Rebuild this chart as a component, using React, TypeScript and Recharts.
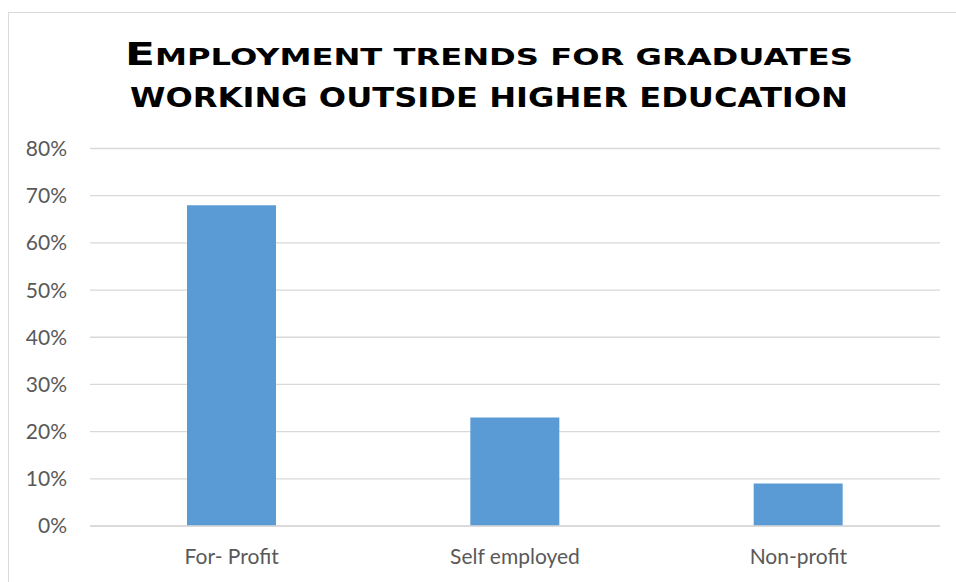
import React from "react";
import { Bar, BarChart, CartesianGrid, XAxis, YAxis } from "recharts";

const categories = ["For- Profit", "Self employed", "Non-profit"];
const shares = [68, 23, 9];
const yTicks = [0, 10, 20, 30, 40, 50, 60, 70, 80];

const data = categories.map((name, i) => ({ name, share: shares[i] }));

const GREY_TEXT = "#595959";
const GRID = "#d9d9d9";
const BAR = "#5b9bd5";
const FONT = "Lato, 'Open Sans', sans-serif";
const TITLE_FONT = "'DejaVu Sans', sans-serif";

export default function App() {
  return (
    <div
      style={{
        position: "absolute",
        left: 0,
        top: 0,
        width: 956,
        height: 582,
        overflow: "hidden",
        background: "#fff",
      }}
    >
      {/* chart frame, runs off the right and bottom edges */}
      <div
        style={{
          position: "absolute",
          left: 8,
          top: 12,
          width: 1000,
          height: 1000,
          border: `1px solid ${GRID}`,
        }}
      />
      <svg width={956} height={130} style={{ position: "absolute", left: 0, top: 0 }}>
        <text
          x={125}
          y={65}
          textLength={728}
          lengthAdjust="spacingAndGlyphs"
          fontFamily={TITLE_FONT}
          fontWeight="bold"
          fill="#000"
        >
          <tspan fontSize={32}>E</tspan>
          <tspan fontSize={23.5}>MPLOYMENT TRENDS FOR GRADUATES</tspan>
        </text>
        <text
          x={130}
          y={107}
          textLength={718}
          lengthAdjust="spacingAndGlyphs"
          fontFamily={TITLE_FONT}
          fontWeight="bold"
          fontSize={27}
          fill="#000"
        >
          WORKING OUTSIDE HIGHER EDUCATION
        </text>
      </svg>
      <div style={{ position: "absolute", left: 0, top: 0 }}>
        <BarChart
          width={956}
          height={582}
          data={data}
          margin={{ top: 148.5, right: 16, bottom: 26, left: 0 }}
        >
          <CartesianGrid vertical={false} stroke={GRID} strokeWidth={1.3} />
          <XAxis
            dataKey="name"
            height={30}
            axisLine={{ stroke: GRID, strokeWidth: 1.3 }}
            tickLine={false}
            tickMargin={17}
            tick={{ fill: GREY_TEXT, fontSize: 21, fontFamily: FONT }}
          />
          <YAxis
            width={90}
            domain={[0, 80]}
            ticks={yTicks}
            axisLine={false}
            tickLine={false}
            tickMargin={17}
            tickFormatter={(v: number) => `${v}%`}
            tick={{ fill: GREY_TEXT, fontSize: 21, fontFamily: FONT }}
          />
          <Bar dataKey="share" fill={BAR} barSize={89} isAnimationActive={false} />
        </BarChart>
      </div>
    </div>
  );
}
